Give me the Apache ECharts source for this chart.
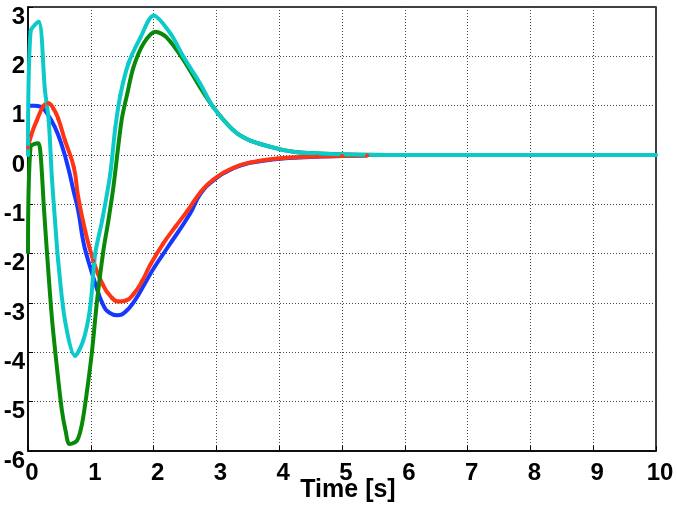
<!DOCTYPE html>
<html>
<head>
<meta charset="utf-8">
<script src="https://cdn.jsdelivr.net/npm/echarts@6/dist/echarts.min.js"></script>
<style>
  html, body { margin: 0; padding: 0; background: #fff; }
  #chart { width: 677px; height: 506px; }
</style>
</head>
<body>
<div id="chart"></div>
<script>
// time samples and values
const blueT = [0, 0.1, 0.2, 0.3, 0.43, 0.55, 0.65, 0.72, 0.8, 0.88, 0.95, 1.07, 1.2, 1.3, 1.42, 1.55, 1.7, 1.85, 2.0, 2.22, 2.58, 2.74, 2.95, 3.27, 3.54, 3.97, 4.5, 5.0, 5.4]
const blueV = [1.0, 1.0, 0.98, 0.85, 0.56, 0.15, -0.31, -0.7, -1.13, -1.75, -2.1, -2.6, -3.05, -3.2, -3.25, -3.18, -2.95, -2.63, -2.3, -1.88, -1.19, -0.8, -0.52, -0.27, -0.16, -0.08, -0.04, -0.02, -0.01]

const redT = [0, 0.05, 0.14, 0.25, 0.32, 0.4, 0.48, 0.59, 0.73, 0.8, 0.91, 1.04, 1.18, 1.34, 1.44, 1.56, 1.68, 1.82, 1.95, 2.15, 2.35, 2.54, 2.75, 2.95, 3.27, 3.54, 3.97, 4.6, 5.0, 5.4]
const redV = [0.15, 0.4, 0.7, 1.0, 1.05, 0.95, 0.74, 0.29, -0.25, -0.86, -1.53, -2.14, -2.6, -2.9, -2.97, -2.95, -2.82, -2.55, -2.22, -1.8, -1.45, -1.13, -0.75, -0.5, -0.26, -0.15, -0.07, -0.03, -0.02, -0.01]

const greenT = [0, 0.04, 0.16, 0.2, 0.25, 0.3, 0.38, 0.46, 0.54, 0.6, 0.66, 0.78, 0.86, 0.94, 1.02, 1.1, 1.2, 1.28, 1.36, 1.49, 1.58, 1.68, 1.84, 2.03, 2.21, 2.48, 2.74, 2.95, 3.27, 3.54, 3.97, 4.33, 5.1, 6, 10]
const greenV = [-2.0, 0.16, 0.24, 0.02, -1.0, -1.94, -3.29, -4.3, -5.18, -5.6, -5.86, -5.79, -5.45, -4.78, -3.97, -2.95, -1.94, -1.33, -0.65, 0.7, 1.24, 1.78, 2.26, 2.5, 2.38, 1.92, 1.37, 0.97, 0.5, 0.29, 0.13, 0.05, 0.01, 0, 0]

const cyanT = [0, 0.04, 0.17, 0.27, 0.33, 0.38, 0.43, 0.48, 0.59, 0.75, 0.88, 0.99, 1.07, 1.18, 1.31, 1.39, 1.47, 1.6, 1.79, 2.0, 2.27, 2.48, 2.74, 2.95, 3.27, 3.54, 3.97, 4.33, 5.1, 6, 10]
const cyanV = [0, 2.5, 2.7, 1.31, 0.7, -0.45, -1.33, -2.14, -3.36, -4.07, -3.76, -3.09, -2.0, -1.33, -0.38, 0.55, 1.21, 1.86, 2.38, 2.83, 2.46, 1.98, 1.45, 0.97, 0.5, 0.29, 0.13, 0.05, 0.01, 0, 0]

const pairs = (t, v) => t.map((x, i) => [x, v[i]])

const labelFont = {
  color: '#000',
  fontSize: 24,
  fontWeight: 'bold',
  fontFamily: 'Liberation Sans'
}

const gridLine = {
  show: true,
  lineStyle: { color: '#444', type: [1, 2], width: 1 }
}

const mychart = echarts.init(document.getElementById('chart'))
mychart.setOption({
  animation: false,
  grid: {
    left: 28,
    right: 21,
    top: 7,
    bottom: 55,
    containLabel: false,
    outerBoundsMode: 'none',
    show: true,
    borderColor: '#000',
    borderWidth: 1.5
  },
  xAxis: {
    type: 'value',
    min: 0,
    max: 10,
    interval: 1,
    name: 'Time [s]',
    nameLocation: 'middle',
    nameGap: 27,
    nameMoveOverlap: false,
    nameTextStyle: Object.assign({}, labelFont, { fontSize: 25, padding: [0, 0, 0, 12] }),
    axisLine: { show: true, onZero: false, lineStyle: { color: '#000', width: 1.5 } },
    axisTick: { show: true, inside: true, length: 5, lineStyle: { color: '#000' } },
    axisLabel: Object.assign({}, labelFont, { margin: 10, padding: [0, 0, 0, 8] }),
    splitLine: gridLine
  },
  yAxis: {
    type: 'value',
    min: -6,
    max: 3,
    interval: 1,
    axisLine: { show: true, onZero: false, lineStyle: { color: '#000', width: 1.5 } },
    axisTick: { show: true, inside: true, length: 5, lineStyle: { color: '#000' } },
    axisLabel: Object.assign({}, labelFont, { margin: 3, verticalAlign: 'top', lineHeight: 20 }),
    splitLine: gridLine
  },
  series: [
    {
      type: 'line',
      data: pairs(blueT, blueV),
      smooth: 0.5,
      showSymbol: false,
      lineStyle: { color: '#1438ff', width: 4 },
      itemStyle: { color: '#1438ff' }
    },
    {
      type: 'line',
      data: pairs(redT, redV),
      smooth: 0.5,
      symbol: 'circle',
      symbolSize: 4,
      lineStyle: { color: '#ff3414', width: 4 },
      itemStyle: { color: '#ff3414' }
    },
    {
      type: 'line',
      data: pairs(greenT, greenV),
      smooth: 0.3,
      showSymbol: false,
      lineStyle: { color: '#088a08', width: 4 },
      itemStyle: { color: '#088a08' }
    },
    {
      type: 'line',
      data: pairs(cyanT, cyanV),
      smooth: 0.3,
      symbol: 'circle',
      symbolSize: 4,
      lineStyle: { color: '#0ccaca', width: 4 },
      itemStyle: { color: '#0ccaca' }
    }
  ]
})
</script>
</body>
</html>
